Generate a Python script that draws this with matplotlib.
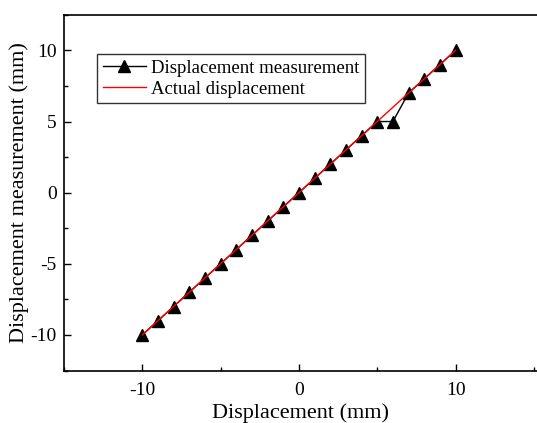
import matplotlib
matplotlib.use("Agg")
import matplotlib.pyplot as plt
from matplotlib.ticker import MultipleLocator

plt.rcParams['font.family'] = ['Liberation Serif', 'DejaVu Serif']
plt.rcParams['axes.unicode_minus'] = False

# data
actual = [-10, -9, -8, -7, -6, -5, -4, -3, -2, -1, 0, 1, 2, 3, 4, 5, 6, 7, 8, 9, 10]
measured = [-10, -9, -8, -7, -6, -5, -4, -3, -2, -1, 0, 1, 2, 3, 4, 5, 5, 7, 8, 9, 10]

fig = plt.figure(figsize=(5.37, 4.23), dpi=100)
ax = fig.add_axes([0.119, 0.124, 0.881, 0.841])

ax.plot(actual, measured, color="black", linewidth=1, marker="^", markersize=8,
        label="Displacement measurement")
ax.plot(actual, actual, color="red", linewidth=1, label="Actual displacement")

ax.set_xlim(-15, 15.2)
ax.set_ylim(-12.5, 12.5)
ax.xaxis.set_major_locator(MultipleLocator(10))
ax.xaxis.set_minor_locator(MultipleLocator(5))
ax.yaxis.set_major_locator(MultipleLocator(5))
ax.yaxis.set_minor_locator(MultipleLocator(2.5))
ax.tick_params(which="both", direction="in", labelsize=14, width=1)
ax.tick_params(which="major", length=5)
ax.tick_params(which="minor", length=3)
ax.tick_params(axis="x", pad=8)
ax.tick_params(axis="y", pad=5)
ax.spines["right"].set_visible(False)
for s in ax.spines.values():
    s.set_linewidth(1.2)

ax.set_xlabel("Displacement (mm)", fontsize=16, labelpad=3)
ax.set_ylabel("Displacement measurement (mm)", fontsize=16, labelpad=1)

leg = ax.legend(loc="upper left", bbox_to_anchor=(0.07, 0.89), fontsize=13.5,
                frameon=True, fancybox=False, edgecolor="black",
                handlelength=2.3, borderpad=0.3, labelspacing=0.2,
                handletextpad=0.3, borderaxespad=0)
leg.get_frame().set_linewidth(1)

fig.savefig("out.png", dpi=100)
